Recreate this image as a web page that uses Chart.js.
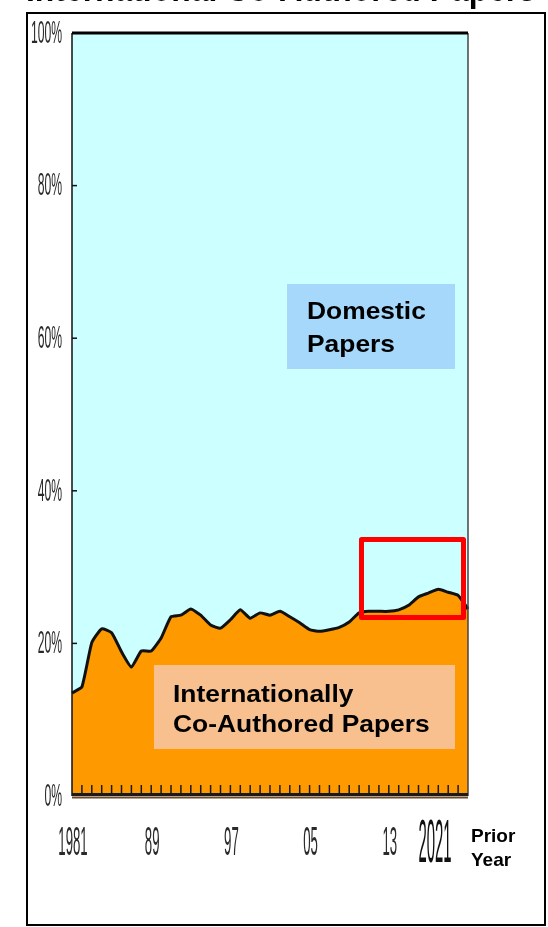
<!DOCTYPE html>
<html>
<head>
<meta charset="utf-8">
<script src="https://cdn.jsdelivr.net/npm/chart.js@4.4.1/dist/chart.umd.min.js"></script>
<style>
  html, body { margin: 0; padding: 0; background: #fff; }
  canvas { display: block; }
</style>
</head>
<body>
<canvas id="share-chart" width="548" height="927"></canvas>
<script>
// Years on the x axis
const years = [];
for (let y = 1981; y <= 2021; y++) years.push(String(y));

// Share of internationally co-authored papers (%)
const intlShare = [
  13.5, 14.3, 20.1, 21.9, 21.4, 18.9, 16.9, 19.0, 19.0, 20.7,
  23.5, 23.7, 24.5, 23.7, 22.4, 22.0, 23.1, 24.4, 23.3, 24.0,
  23.7, 24.2, 23.5, 22.7, 21.8, 21.6, 21.8, 22.1, 22.8, 24.0,
  24.2, 24.2, 24.2, 24.4, 25.0, 26.1, 26.6, 27.1, 26.7, 26.3,
  24.5
];

// Tick labels
const yTickValues = [0, 20, 40, 60, 80, 100];
const yTickLabels = ['0%', '20%', '40%', '60%', '80%', '100%'];
const xTickYears = ['1981', '1989', '1997', '2005', '2013'];
const xTickLabels = ['1981', '89', '97', '05', '13'];

// Draw compressed text (the original uses a very narrow face)
const narrowText = (ctx, text, x, y, size, sx, align) => {
  ctx.save();
  ctx.font = size + 'px "Liberation Sans", Arial, sans-serif';
  const w = ctx.measureText(text).width * sx;
  let left = x;
  if (align === 'right') left = x - w;
  if (align === 'center') left = x - w / 2;
  ctx.translate(left, y);
  ctx.scale(sx, 1);
  ctx.textAlign = 'left';
  ctx.textBaseline = 'middle';
  ctx.fillText(text, 0, 0);
  ctx.restore();
};

const boxText = (ctx, lines, x, baselines) => {
  ctx.save();
  ctx.fillStyle = '#000';
  ctx.font = 'bold 24px "Liberation Sans", Arial, sans-serif';
  ctx.textBaseline = 'alphabetic';
  lines.forEach((t, i) => {
    ctx.save();
    ctx.translate(x, baselines[i]);
    ctx.scale(1.1, 1);
    ctx.fillText(t, 0, 0);
    ctx.restore();
  });
  ctx.restore();
};

// Frame, axes, labels and call-outs
const decorations = {
  id: 'decorations',
  beforeDraw(chart) {
    const ctx = chart.ctx;
    ctx.save();
    ctx.fillStyle = '#fff';
    ctx.fillRect(0, 0, chart.width, chart.height);
    ctx.restore();
  },
  afterDatasetsDraw(chart) {
    const ctx = chart.ctx;
    const area = chart.chartArea;
    const xs = chart.scales.x;
    const ys = chart.scales.y;

    ctx.save();

    // outer frame
    ctx.strokeStyle = '#000';
    ctx.lineWidth = 2;
    ctx.strokeRect(27, 13, 518, 912);

    // clipped title at the very top
    ctx.save();
    ctx.fillStyle = '#000';
    ctx.font = 'bold 38px "Liberation Sans", Arial, sans-serif';
    const title = 'International Co-Authored Papers';
    const tw = ctx.measureText(title).width;
    ctx.translate(26, 1);
    ctx.scale(510 / tw, 1);
    ctx.textBaseline = 'alphabetic';
    ctx.fillText(title, 0, 0);
    ctx.restore();

    // plot borders
    ctx.strokeStyle = '#111';
    ctx.lineWidth = 1.5;
    ctx.beginPath();
    ctx.moveTo(area.left, area.top);
    ctx.lineTo(area.left, area.bottom);
    ctx.stroke();
    ctx.strokeStyle = '#444';
    ctx.beginPath();
    ctx.moveTo(area.right, area.top);
    ctx.lineTo(area.right, area.bottom);
    ctx.stroke();

    // 100% line
    ctx.strokeStyle = '#000';
    ctx.lineWidth = 3;
    ctx.beginPath();
    ctx.moveTo(area.left, ys.getPixelForValue(100));
    ctx.lineTo(area.right, ys.getPixelForValue(100));
    ctx.stroke();

    // bottom axis with yearly ticks
    ctx.strokeStyle = '#6b4a2a';
    ctx.lineWidth = 2;
    ctx.beginPath();
    ctx.moveTo(area.left, area.bottom + 1.5);
    ctx.lineTo(area.right, area.bottom + 1.5);
    ctx.stroke();
    ctx.strokeStyle = '#1a1a1a';
    ctx.lineWidth = 3;
    ctx.beginPath();
    ctx.moveTo(area.left, area.bottom - 1.5);
    ctx.lineTo(area.right, area.bottom - 1.5);
    ctx.stroke();
    ctx.lineWidth = 1.5;
    for (let i = 1; i < years.length - 1; i++) {
      const px = xs.getPixelForValue(i);
      ctx.beginPath();
      ctx.moveTo(px, area.bottom - 2);
      ctx.lineTo(px, area.bottom - 11);
      ctx.stroke();
    }

    // y ticks and labels
    ctx.strokeStyle = '#111';
    ctx.lineWidth = 1.5;
    ctx.fillStyle = '#2a2a2a';
    yTickValues.forEach((v, i) => {
      const py = ys.getPixelForValue(v);
      if (v > 0 && v < 100) {
        ctx.beginPath();
        ctx.moveTo(area.left, py);
        ctx.lineTo(area.left + 5, py);
        ctx.stroke();
      }
      narrowText(ctx, yTickLabels[i], 62, py + 1, 32, 0.38, 'right');
    });

    // x labels
    xTickYears.forEach((yr, i) => {
      const px = xs.getPixelForValue(years.indexOf(yr));
      narrowText(ctx, xTickLabels[i], px + 1, 844, 40, 0.33, 'center');
    });
    ctx.fillStyle = '#111';
    narrowText(ctx, '2021', 435, 845, 62, 0.24, 'center');

    ctx.fillStyle = '#000';
    ctx.font = 'bold 19px "Liberation Sans", Arial, sans-serif';
    ctx.textBaseline = 'alphabetic';
    ctx.fillText('Prior', 471, 842);
    ctx.fillText('Year', 471, 866);

    // call-out boxes
    ctx.fillStyle = '#a6d8fb';
    ctx.fillRect(287, 284, 168, 85);
    boxText(ctx, ['Domestic', 'Papers'], 307, [319, 352]);

    ctx.fillStyle = '#f8c08e';
    ctx.fillRect(154, 665, 301, 84);
    boxText(ctx, ['Internationally', 'Co-Authored Papers'], 173, [702, 732]);

    // red highlight
    ctx.strokeStyle = '#ff0000';
    ctx.lineWidth = 5;
    ctx.lineJoin = 'round';
    ctx.strokeRect(361.5, 539.5, 102, 78);

    ctx.restore();
  }
};

const chart = new Chart(document.getElementById('share-chart'), {
  type: 'line',
  data: {
    labels: years,
    datasets: [
      {
        label: 'Internationally Co-Authored Papers',
        data: intlShare,
        borderColor: '#111',
        borderWidth: 3,
        pointRadius: 0,
        tension: 0.15,
        backgroundColor: '#ff9900',
        fill: 'origin'
      },
      {
        label: 'Domestic Papers',
        data: intlShare,
        borderWidth: 0,
        pointRadius: 0,
        tension: 0.15,
        backgroundColor: '#ccffff',
        fill: 'end'
      }
    ]
  },
  options: {
    responsive: false,
    animation: false,
    events: [],
    layout: {
      padding: { left: 72, right: 80, top: 33, bottom: 131 }
    },
    scales: {
      x: { display: false, offset: false },
      y: { display: false, min: 0, max: 100 }
    },
    plugins: {
      legend: { display: false },
      tooltip: { enabled: false }
    }
  },
  plugins: [decorations]
});
</script>
</body>
</html>
